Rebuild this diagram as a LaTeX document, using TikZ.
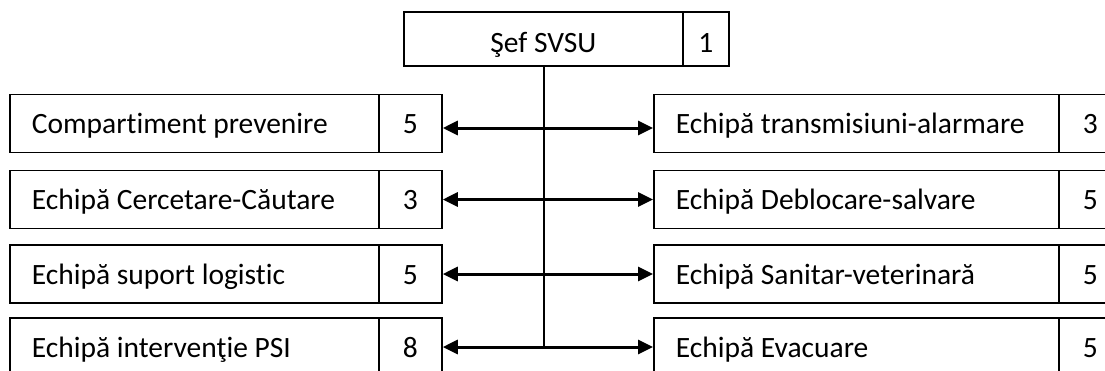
\documentclass[tikz,border=0pt]{standalone}
\usepackage{fontspec}
\setmainfont{Carlito}[Ligatures=NoCommon]
\usetikzlibrary{arrows.meta}
\begin{document}
\begin{tikzpicture}[x=1pt,y=-1pt,
  cell/.style={draw, line width=1.8pt, inner sep=0pt, minimum height=58pt,
    text height=21pt, text depth=1pt,
    font=\fontsize{29.5}{35}\selectfont},
  topcell/.style={cell, anchor=west, minimum height=54pt, text height=27pt, text depth=1pt},
  namebox/.style={cell, anchor=west, minimum width=#1},
  numbox/.style={cell, anchor=west, minimum width=63pt, align=center},
  link/.style={line width=3pt, {Triangle[length=15pt,width=14pt]}-{Triangle[length=15pt,width=14pt]}},
  spineline/.style={line width=1.5pt}]
\newcommand{\lefttext}[2]{\makebox[#1][l]{\hspace{22pt}#2}}
\useasboundingbox (0,0) rectangle (1105,370);
\clip (0,0) rectangle (1105,370);
% top
\node[topcell, minimum width=279pt] (sef) at (403,39) {Şef SVSU};
\node[topcell, minimum width=46pt] (sefn) at (682,39) {1};
% left column
\node[namebox=369pt] (l1) at (9,123.5) {\lefttext{369pt}{Compartiment prevenire}};
\node[numbox] (l1n) at (378,123.5) {5};
\node[namebox=369pt] (l2) at (9,199.5) {\lefttext{369pt}{Echipă Cercetare-Căutare}};
\node[numbox] (l2n) at (378,199.5) {3};
\node[namebox=369pt] (l3) at (9,274) {\lefttext{369pt}{Echipă suport logistic}};
\node[numbox] (l3n) at (378,274) {5};
\node[namebox=369pt] (l4) at (9,347) {\lefttext{369pt}{Echipă intervenţie PSI}};
\node[numbox] (l4n) at (378,347) {8};
% right column
\node[namebox=405pt] (r1) at (653,123.5) {\lefttext{405pt}{Echipă transmisiuni-alarmare}};
\node[numbox] (r1n) at (1058,123.5) {3};
\node[namebox=405pt] (r2) at (653,199.5) {\lefttext{405pt}{Echipă Deblocare-salvare}};
\node[numbox] (r2n) at (1058,199.5) {5};
\node[namebox=405pt] (r3) at (653,274) {\lefttext{405pt}{Echipă Sanitar-veterinară}};
\node[numbox] (r3n) at (1058,274) {5};
\node[namebox=405pt] (r4) at (653,347) {\lefttext{405pt}{Echipă Evacuare}};
\node[numbox] (r4n) at (1058,347) {5};
% connectors
\coordinate (spineend) at (544,347);
\draw[spineline] (sef.south -| spineend) -- (spineend);
\draw[link] ([yshift=-4.5pt]l1n.east) -- ([yshift=-4.5pt]r1.west);
\draw[link] (l2n.east) -- (r2.west);
\draw[link] (l3n.east) -- (r3.west);
\draw[link] (l4n.east) -- (r4.west);
\end{tikzpicture}
\end{document}
